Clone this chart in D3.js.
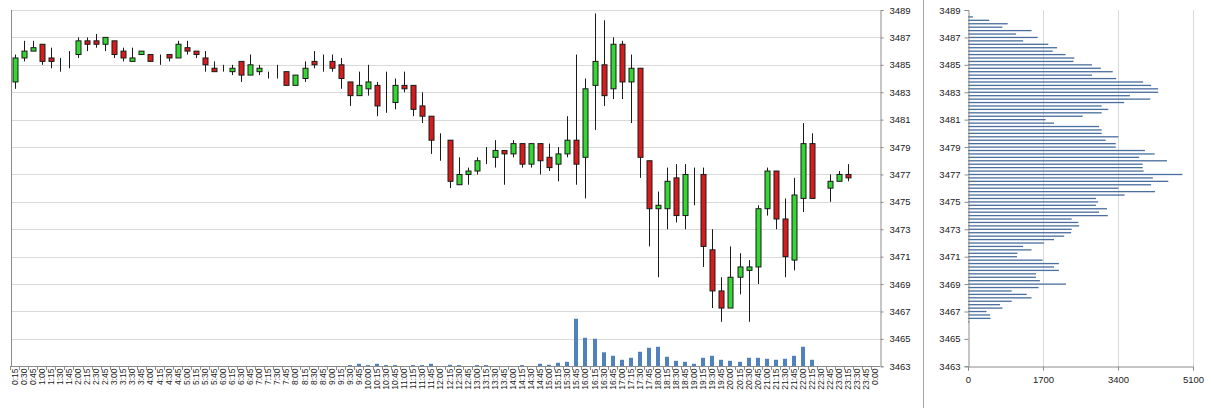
<!DOCTYPE html>
<html>
<head>
<meta charset="utf-8">
<script src="https://cdn.jsdelivr.net/npm/d3@7"></script>
<style>
  html, body { margin: 0; padding: 0; background: #fff; }
  svg { display: block; }
  text { font-family: "Liberation Sans", Arial, sans-serif; fill: #1a1a1a; }
</style>
</head>
<body>
<svg id="chart" width="1211" height="408"></svg>
<script>
// ---------------- DATA ----------------
const timeLabels = ["0:15","0:30","0:45","1:00","1:15","1:30","1:45","2:00","2:15","2:30","2:45","3:00","3:15","3:30","3:45","4:00",
  "4:15","4:30","4:45","5:00","5:15","5:30","5:45","6:00","6:15","6:30","6:45","7:00","7:15","7:30","7:45","8:00",
  "8:15","8:30","8:45","9:00","9:15","9:30","9:45","10:00","10:15","10:30","10:45","11:00","11:15","11:30","11:45","12:00",
  "12:15","12:30","12:45","13:00","13:15","13:30","13:45","14:00","14:15","14:30","14:45","15:00","15:15","15:30","15:45","16:00",
  "16:15","16:30","16:45","17:00","17:15","17:30","17:45","18:00","18:15","18:30","18:45","19:00","19:15","19:30","19:45","20:00",
  "20:15","20:30","20:45","21:00","21:15","21:30","21:45","22:00","22:15","22:30","22:45","23:00","23:15","23:30","23:45","0:00"];

const opens = [3483.75,3485.5,3486,3486.5,3485.5,3485.25,3485.5,3485.75,3486.75,3486.75,3486.5,3486.75,3486,3485.25,3485.75,3485.75,
  3485.5,3485.75,3485.5,3486.25,3486,3485.5,3484.75,3484.5,3484.5,3485.25,3484.25,3484.5,3484.25,3484.25,3484.5,3483.5,
  3484,3485.25,3485,3485.25,3485,3483.75,3482.75,3483.25,3483.5,3483,3482.25,3483.5,3483.5,3482,3481.25,3479.5,
  3479.5,3476.25,3477,3477.25,3478.25,3478.25,3478.75,3478.5,3479.25,3477.75,3479.25,3478.25,3477.75,3478.5,3479.5,3478.25,
  3483.5,3485,3483.25,3486.5,3483.75,3484.75,3478,3474.5,3474.5,3476.75,3474,3477,3477,3471.5,3468.5,3467.25,
  3469.5,3470,3470.25,3474.5,3477.25,3473.75,3470.75,3475.25,3479.25,null,3476,3476.5,3477,null,null,null];

const highs = [3485.75,3486.75,3486.75,3486.5,3486.25,3485.5,3486,3487,3487,3487.25,3487,3486.75,3486.25,3486.25,3486,3485.75,
  3485.75,3485.75,3486.75,3486.75,3486,3486,3485.25,3485,3485,3485.25,3485.75,3485,3484.5,3485,3484.5,3484.25,
  3485.25,3486,3485.75,3485.75,3485.5,3483.75,3484.5,3485,3483.75,3484.5,3484,3484.5,3483.5,3483,3481.25,3480,
  3479.5,3478.25,3477.5,3478.25,3479,3479.5,3478.75,3479.5,3479.25,3479.25,3479.25,3479.25,3479,3481.25,3485.75,3484,
  3488.75,3488.25,3487,3486.75,3485.75,3484.75,3478,3475.75,3477.5,3477.75,3477.75,3477.5,3477.5,3473,3469.5,3471.75,
  3471.25,3470.75,3474.75,3477.5,3477.25,3475.25,3476.75,3480.75,3480,null,3477,3477.25,3477.75,null,null,null];

const lows = [3483.25,3485.25,3486,3485,3484.75,3484.5,3484.75,3485.5,3486,3486.25,3486,3485.5,3485.25,3485.25,3485.75,3485.25,
  3485,3485.25,3485.5,3485.75,3485.5,3484.5,3484.5,3484.5,3484.25,3483.75,3484.25,3484.25,3484,3484,3483.5,3483.5,
  3483.75,3484.75,3484.5,3484.5,3483.25,3482,3482.75,3482.75,3481.25,3481.5,3481.75,3483,3481.25,3480.75,3478.5,3478,
  3476,3476.25,3476.25,3477,3477.75,3477.5,3476.25,3478.25,3477.5,3477.5,3477,3477.25,3476.5,3478.25,3476.25,3475.25,
  3480.25,3482,3482.5,3482.5,3480.75,3476.75,3471.75,3469.5,3473,3473.5,3473,3474.75,3470.25,3467.25,3466.25,3467.25,
  3468.25,3466.25,3469,3474,3473,3469.5,3470,3474.25,3475.25,null,3475,3476.5,3476.5,null,null,null];

const closes = [3485.5,3486,3486.25,3485.25,3485.25,3485.25,3485.5,3486.75,3486.5,3486.5,3487,3485.75,3485.5,3485.5,3486,3485.25,
  3485.5,3485.5,3486.5,3486,3485.75,3485,3484.5,3484.5,3484.75,3484.25,3485,3484.75,3484.25,3484.25,3483.5,3484.25,
  3484.75,3485,3485,3484.75,3484,3482.75,3483.5,3483.75,3482,3483,3483.5,3483.25,3481.75,3481.25,3479.5,3479.5,
  3476.5,3477,3477.25,3478,3478.25,3478.75,3478.5,3479.25,3477.75,3479.25,3478,3477.5,3478.5,3479.5,3477.75,3483.25,
  3485.25,3482.75,3486.5,3483.75,3484.75,3478.25,3474.5,3474.75,3476.5,3474,3477,3477,3471.75,3468.5,3467.25,3469.5,
  3470.25,3470.25,3474.5,3477.25,3473.75,3471,3475.5,3479.25,3475.25,null,3476.5,3477,3476.75,null,null,null];

const volumes = [0,0,0,0,0,0,0,0,0,0,0,0,0,0,0,0,
  0,0,0,0,0,0,0,0,0,0,0,0,0,0,0,0,
  0,0,0,0,0,620,1300,620,1300,620,620,150,620,620,1300,0,
  780,620,0,620,620,0,0,0,620,0,1300,780,1820,2340,24700,14800,
  14300,7280,5460,3380,4420,7540,9620,10140,4940,2860,2340,1300,4420,5460,3380,2860,
  2340,4420,4420,3900,3380,3900,5460,10140,3380,0,0,0,0,0,0,0];

const priceTicks = [3463,3465,3467,3469,3471,3473,3475,3477,3479,3481,3483,3485,3487,3489];

const profilePrices = [3488.5,3488.25,3488,3487.75,3487.5,3487.25,3487,3486.75,3486.5,3486.25,3486,3485.75,3485.5,3485.25,3485,
  3484.75,3484.5,3484.25,3484,3483.75,3483.5,3483.25,3483,3482.75,3482.5,3482.25,3482,3481.75,3481.5,3481.25,3481,
  3480.75,3480.5,3480.25,3480,3479.75,3479.5,3479.25,3479,3478.75,3478.5,3478.25,3478,3477.75,3477.5,3477.25,3477,
  3476.75,3476.5,3476.25,3476,3475.75,3475.5,3475.25,3475,3474.75,3474.5,3474.25,3474,3473.75,3473.5,3473.25,3473,
  3472.75,3472.5,3472.25,3472,3471.75,3471.5,3471.25,3471,3470.75,3470.5,3470.25,3470,3469.75,3469.5,3469.25,3469,
  3468.75,3468.5,3468.25,3468,3467.75,3467.5,3467.25,3467,3466.75,3466.5,3466.25];

const profileVolumes = [110,480,900,780,1440,1090,1580,1250,1820,2020,1920,2210,2410,2390,2810,
  3010,3280,2810,3360,3970,4150,4310,4310,3670,4130,3540,3030,3180,3030,2600,1760,
  1950,2970,3030,3030,3410,3120,3350,3350,4010,4230,3880,4510,3960,3960,3980,4860,
  4190,4540,4150,3410,4240,3550,2900,2950,2900,3150,2970,3170,2350,2500,2520,2350,
  2340,2180,1950,1720,1250,1440,1120,1110,1690,2060,1950,2060,1540,1540,1630,2220,
  1600,990,1330,1440,990,725,780,420,500,510,30];

const profileTicks = [0,1700,3400,5100];

// ---------------- STYLE / LAYOUT ----------------
const W = 1211, H = 408;
const plotTop = 10, plotBottom = 366.3;
const mainLeft = 10, mainRight = 880;
const profLeft = 968, profRight = 1193;
const AXIS = "#8c8c8c", GRID = "#d9d9d9";
const UP = "#33d633", DOWN = "#d61c1c", OUTLINE = "#1a1a1a";
const VOLC = "#4f81bd", PROFC = "#4a6e9d";
const FONT = 9.5, XFONT = 8.5;

const svg = d3.select("#chart");

const x = d3.scaleBand().domain(timeLabels).range([mainLeft, mainRight]).padding(0);
const y = d3.scaleLinear().domain([priceTicks[0], priceTicks[priceTicks.length-1]]).range([plotBottom, plotTop]);
const yVol = d3.scaleLinear().domain([0, 185000]).range([plotBottom, plotTop]);

const xp = d3.scaleLinear().domain([profileTicks[0], profileTicks[profileTicks.length-1]]).range([profLeft, profRight]);

// ---------- Main chart gridlines ----------
svg.append("g").selectAll("line").data(priceTicks.filter(d => d !== priceTicks[0])).join("line")
  .attr("x1", 11).attr("x2", mainRight)
  .attr("y1", d => Math.round(y(d)) + 0.5).attr("y2", d => Math.round(y(d)) + 0.5)
  .attr("stroke", GRID).attr("stroke-width", 1);

// left border
svg.append("line").attr("x1", 11.5).attr("x2", 11.5).attr("y1", Math.round(y(priceTicks[priceTicks.length-1]))).attr("y2", Math.round(plotBottom)+0.5)
  .attr("stroke", AXIS);

// ---------- Volume bars ----------
const volData = timeLabels.map((t, i) => ({t, v: volumes[i]})).filter(d => d.v > 0);
svg.append("g").selectAll("rect").data(volData).join("rect")
  .attr("x", d => Math.round(x(d.t) + x.bandwidth()/2) - 2)
  .attr("width", 4)
  .attr("y", d => yVol(d.v))
  .attr("height", d => yVol(0) - yVol(d.v))
  .attr("fill", VOLC);

// ---------- Candles ----------
const candles = timeLabels.map((t, i) => ({t, o: opens[i], h: highs[i], l: lows[i], c: closes[i]})).filter(d => d.o !== null);
const cg = svg.append("g");
const cx = d => Math.round(x(d.t) + x.bandwidth()/2) + 0.5;
cg.selectAll("line").data(candles).join("line")
  .attr("x1", cx).attr("x2", cx)
  .attr("y1", d => y(d.h)).attr("y2", d => y(d.l))
  .attr("stroke", OUTLINE).attr("stroke-width", 1);
cg.selectAll("rect").data(candles).join("rect")
  .attr("x", d => cx(d) - 2.5)
  .attr("width", 5)
  .attr("y", d => y(Math.max(d.o, d.c)))
  .attr("height", d => Math.abs(y(d.o) - y(d.c)))
  .attr("fill", d => d.c >= d.o ? UP : DOWN)
  .attr("stroke", OUTLINE).attr("stroke-width", 1);

// ---------- Main right axis ----------
const yAxis = d3.axisRight(y).tickValues(priceTicks).tickSize(3).tickPadding(6).tickFormat(d3.format("d"));
const ya = svg.append("g").attr("transform", `translate(${mainRight + 0.5},0)`).call(yAxis);
ya.select(".domain").attr("stroke", AXIS);
ya.selectAll(".tick line").attr("stroke", AXIS);
ya.selectAll("text").attr("font-size", FONT).attr("font-family", "Liberation Sans, Arial, sans-serif").attr("fill", "#1a1a1a");

// ---------- Bottom axis ----------
svg.append("line").attr("x1", 11).attr("x2", mainRight).attr("y1", Math.round(plotBottom)+0.5).attr("y2", Math.round(plotBottom)+0.5).attr("stroke", AXIS);
svg.append("g").selectAll("line").data(timeLabels).join("line")
  .attr("x1", d => Math.round(x(d)) + 0.5).attr("x2", d => Math.round(x(d)) + 0.5)
  .attr("y1", Math.round(plotBottom)).attr("y2", Math.round(plotBottom) + 4)
  .attr("stroke", AXIS);
svg.append("g").selectAll("text").data(timeLabels).join("text")
  .attr("transform", d => `translate(${x(d) + x.bandwidth()/2},368.5) rotate(-90)`)
  .attr("text-anchor", "end").attr("dy", "0.35em")
  .attr("font-size", XFONT)
  .attr("font-family", "DejaVu Sans, Verdana, sans-serif")
  .text(d => d);

// ---------- Separator ----------
svg.append("line").attr("x1", 923.5).attr("x2", 923.5).attr("y1", 0).attr("y2", H).attr("stroke", "#a6a6a6");

// ---------- Volume profile ----------
svg.append("g").selectAll("line").data(profileTicks.slice(1)).join("line")
  .attr("x1", d => Math.round(xp(d)) + 0.5).attr("x2", d => Math.round(xp(d)) + 0.5)
  .attr("y1", y(priceTicks[priceTicks.length-1])).attr("y2", plotBottom)
  .attr("stroke", GRID);

svg.append("g").selectAll("rect").data(profilePrices.map((p, i) => ({p, v: profileVolumes[i]}))).join("rect")
  .attr("x", xp(0))
  .attr("width", d => xp(d.v) - xp(0))
  .attr("y", d => y(d.p) - 0.6)
  .attr("height", 1.3)
  .attr("fill", PROFC);

const pyAxis = d3.axisLeft(y).tickValues(priceTicks).tickSize(4).tickPadding(4).tickFormat(d3.format("d"));
const pya = svg.append("g").attr("transform", `translate(${profLeft + 0.5},0)`).call(pyAxis);
pya.select(".domain").attr("stroke", AXIS);
pya.selectAll(".tick line").attr("stroke", AXIS);
pya.selectAll("text").attr("font-size", FONT).attr("font-family", "Liberation Sans, Arial, sans-serif").attr("fill", "#1a1a1a");

const pxAxis = d3.axisBottom(xp).tickValues(profileTicks).tickSize(4).tickPadding(6).tickFormat(d3.format("d"));
const pxa = svg.append("g").attr("transform", `translate(0,${Math.round(plotBottom) + 0.5})`).call(pxAxis);
pxa.select(".domain").attr("stroke", AXIS);
pxa.selectAll(".tick line").attr("stroke", AXIS);
pxa.selectAll("text").attr("font-size", FONT).attr("font-family", "Liberation Sans, Arial, sans-serif").attr("fill", "#1a1a1a");
</script>
</body>
</html>
